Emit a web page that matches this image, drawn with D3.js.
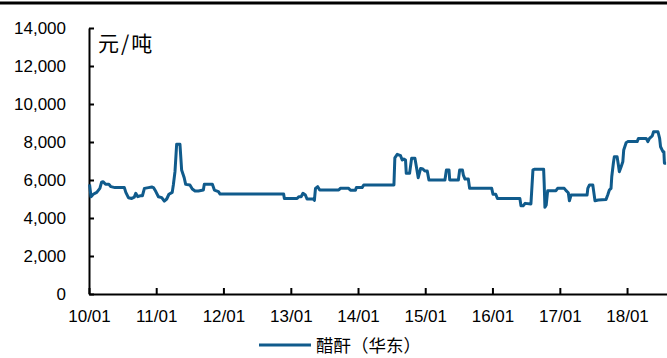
<!DOCTYPE html>
<html>
<head>
<meta charset="utf-8">
<script src="https://cdn.jsdelivr.net/npm/d3@7"></script>
<style>
  body { margin: 0; background: #fff; }
  svg { display: block; }
  .axis text { font-family: "Liberation Sans", Arial, sans-serif; font-size: 17px; fill: #000; }
  .axis path, .axis line { stroke: #000; stroke-width: 2; }
  .cn { font-family: "Noto Sans CJK SC", sans-serif; fill: #000; }
</style>
</head>
<body>
<svg width="667" height="358"></svg>
<script>
var dates = ['2010-01-04','2010-01-12','2010-01-24','2010-02-12','2010-03-01','2010-03-10','2010-03-19','2010-04-01',
  '2010-04-19','2010-04-30','2010-05-22','2010-07-12','2010-07-20','2010-08-03','2010-08-21','2010-09-04',
  '2010-09-12','2010-09-23','2010-10-05','2010-10-18','2010-10-29','2010-11-20','2010-12-08','2010-12-17',
  '2010-12-30','2011-01-13','2011-01-31','2011-02-14','2011-02-27','2011-03-11','2011-03-29','2011-04-04',
  '2011-04-13','2011-04-22','2011-05-10','2011-05-19','2011-06-02','2011-06-10','2011-07-03','2011-07-16',
  '2011-07-31','2011-08-18','2011-09-14','2011-09-19','2011-11-02','2011-11-13','2011-12-05','2011-12-14',
  '2012-11-23','2012-11-27','2013-02-04','2013-02-13','2013-02-26','2013-03-08','2013-03-21','2013-03-30',
  '2013-05-02','2013-05-09','2013-05-15','2013-05-27','2013-06-07','2013-09-18','2013-09-27','2013-11-11',
  '2013-11-21','2013-12-18','2013-12-23','2014-01-23','2014-02-01','2014-07-15','2014-07-20','2014-08-02',
  '2014-08-20','2014-08-29','2014-09-07','2014-09-16','2014-09-20','2014-10-08','2014-10-19','2014-11-06',
  '2014-11-14','2014-11-24','2014-12-07','2014-12-19','2014-12-30','2015-01-12','2015-01-21','2015-04-18',
  '2015-04-26','2015-05-10','2015-05-14','2015-06-30','2015-07-07','2015-07-22','2015-07-27','2015-08-05',
  '2015-08-23','2015-08-30','2015-12-28','2016-01-04','2016-01-19','2016-01-28','2016-05-29','2016-06-04',
  '2016-06-16','2016-06-27','2016-07-28','2016-08-01','2016-08-08','2016-08-15','2016-10-05','2016-10-08',
  '2016-10-12','2016-10-19','2016-10-27','2016-12-11','2016-12-20','2017-01-25','2017-02-04','2017-02-16',
  '2017-02-22','2017-03-03','2017-05-29','2017-06-02','2017-06-11','2017-06-29','2017-07-04','2017-07-11',
  '2017-07-29','2017-09-09','2017-09-18','2017-09-27','2017-10-06','2017-10-10','2017-10-19','2017-10-24',
  '2017-11-08','2017-11-15','2017-11-20','2017-11-30','2017-12-09','2017-12-14','2017-12-27','2018-01-05',
  '2018-02-25','2018-03-04','2018-04-15','2018-04-24','2018-05-03','2018-05-18','2018-05-25','2018-06-18',
  '2018-06-27','2018-07-02','2018-07-15','2018-07-20','2018-07-23','2018-08-01'];

var prices = [5770,5120,5250,5350,5560,5880,5910,5770,
  5770,5650,5600,5600,5350,5070,5030,5100,
  5300,5120,5170,5170,5560,5600,5630,5600,
  5390,5120,5070,4890,5000,5250,5350,5740,
  6440,7880,7880,6530,6120,5770,5740,5530,
  5420,5420,5470,5770,5770,5470,5390,5260,
  5260,5030,5030,5120,5120,5300,5210,5000,
  5000,4930,5560,5650,5470,5470,5560,5560,
  5460,5460,5600,5600,5740,5740,7170,7350,
  7280,7050,7100,7050,6350,6350,7140,7140,
  6700,6120,6610,6580,6470,6470,6000,6000,
  6530,6530,6000,6000,6530,6530,6260,6050,
  6050,5560,5560,5250,5250,5030,5030,4650,
  4650,4770,4740,5390,6530,6560,6560,5830,
  4560,4680,5440,5440,5560,5560,5440,5330,
  4910,5210,5210,5560,5740,5740,5390,4910,
  4950,4980,5210,5470,5560,6170,6910,7230,
  7230,6790,6440,6700,6960,7580,7960,8020,
  8020,8190,8190,8020,8190,8320,8540,8540,
  8190,7750,7490,7490,6880,6880];

var yTicks = [0, 2000, 4000, 6000, 8000, 10000, 12000, 14000];
var seriesName = '醋酐（华东）';
var unitLabel = '元/吨';

var svg = d3.select('svg');
var parseDate = d3.timeParse('%Y-%m-%d');

var data = dates.map(function(d, i) {
  return {date: parseDate(d), value: prices[i]};
});

// top rule
svg.append('line')
    .attr('x1', 0).attr('x2', 667)
    .attr('y1', 3).attr('y2', 3)
    .attr('stroke', '#000')
    .attr('stroke-width', 3);

var xScale = d3.scaleTime()
    .domain([new Date(2010, 0, 1), new Date(2018, 7, 6)])
    .range([89, 667]);

var yScale = d3.scaleLinear()
    .domain([0, 14000])
    .range([294, 28]);

var xAxis = d3.axisBottom(xScale)
    .ticks(d3.timeYear.every(1))
    .tickFormat(d3.timeFormat('%y/%m'))
    .tickSizeInner(-6)
    .tickSizeOuter(0)
    .tickPadding(16);

var yAxis = d3.axisLeft(yScale)
    .tickValues(yTicks)
    .tickFormat(d3.format(','))
    .tickSizeInner(-5)
    .tickSizeOuter(0)
    .tickPadding(23);

svg.append('g')
    .attr('class', 'axis y-axis')
    .attr('transform', 'translate(89,0)')
    .call(yAxis);

svg.append('g')
    .attr('class', 'axis x-axis')
    .attr('transform', 'translate(0,294)')
    .call(xAxis);

var line = d3.line()
    .x(function(d) { return xScale(d.date); })
    .y(function(d) { return yScale(d.value); });

svg.append('path')
    .datum(data)
    .attr('fill', 'none')
    .attr('stroke', '#105b8c')
    .attr('stroke-width', 3)
    .attr('stroke-linejoin', 'round')
    .attr('d', line);

svg.append('text')
    .attr('class', 'cn')
    .attr('x', 98)
    .attr('y', 51)
    .style('font-size', '21px')
    .style('letter-spacing', '2px')
    .text(unitLabel);

// legend
svg.append('line')
    .attr('x1', 259).attr('x2', 311)
    .attr('y1', 345).attr('y2', 345)
    .attr('stroke', '#105b8c')
    .attr('stroke-width', 3);

svg.append('text')
    .attr('class', 'cn')
    .attr('x', 316)
    .attr('y', 352)
    .style('font-size', '17.5px')
    .text(seriesName);
</script>
</body>
</html>
